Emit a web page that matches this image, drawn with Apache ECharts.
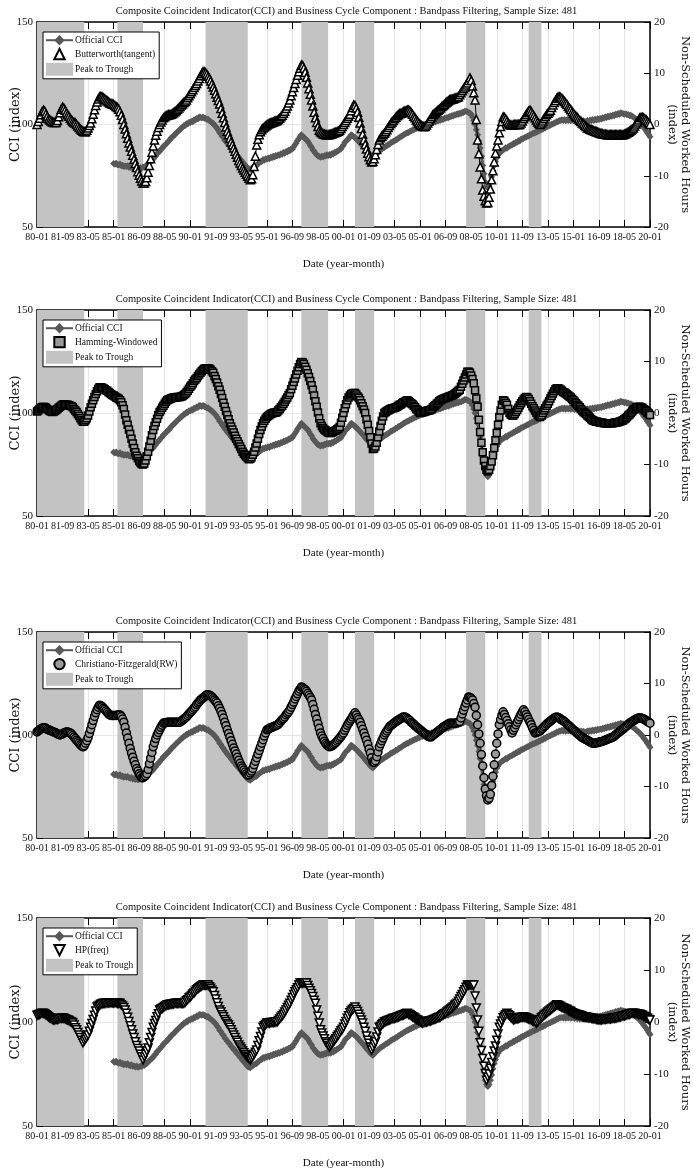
<!DOCTYPE html>
<html>
<head>
<meta charset="utf-8">
<script src="https://cdn.jsdelivr.net/npm/echarts@6/dist/echarts.min.js"></script>
<style>html,body{margin:0;padding:0;background:#fff;}#chart{width:693px;height:1169px;}</style>
</head>
<body>
<div id="chart"></div>
<script>
// ---------- DATA ----------
const titleText = 'Composite Coincident Indicator(CCI) and Business Cycle Component : Bandpass Filtering, Sample Size: 481';
const startYear = 1980, nMonths = 481;
const months = [];
for (let i = 0; i < nMonths; i++) {
  const y = startYear + Math.floor(i / 12), m = i % 12 + 1;
  months.push(String(y % 100).padStart(2, '0') + '-' + String(m).padStart(2, '0'));
}
// Peak-to-trough shaded periods
const peakTrough = [['80-01','83-02'],['85-04','86-12'],['91-01','93-10'],['97-04','99-01'],['00-10','02-01'],['08-01','09-04'],['12-02','12-12']];

// Official CCI (left axis, index), starts 85-01
const cciStart = '85-01';
const cci = [
81.0,80.6,81.1,80.4,80.2,80.7,79.9,80.1,79.5,79.8,
79.5,79.9,79.2,79.0,79.4,78.7,78.9,78.4,78.8,78.3,
78.5,78.9,78.6,79.3,79.1,79.8,80.0,80.9,81.3,82.2,
82.5,83.0,84.1,84.6,85.8,86.2,87.0,87.9,88.3,89.4,
89.8,90.6,91.0,92.0,92.4,93.5,93.8,94.6,95.0,95.9,
96.3,97.1,97.5,98.3,98.6,99.4,99.5,100.4,100.3,101.1,
101.0,101.6,101.4,102.3,102.2,102.9,102.7,103.6,103.5,103.2,
103.6,103.1,103.0,102.4,102.6,101.8,101.5,100.8,100.5,99.6,
99.0,98.1,97.2,96.0,95.4,94.2,93.6,92.3,91.7,90.8,
90.0,89.4,88.3,87.9,86.8,86.4,85.2,84.8,84.0,83.1,
82.6,81.5,81.0,80.1,79.5,78.6,78.3,78.0,78.7,79.0,
79.6,79.8,80.0,80.9,81.2,81.8,82.0,82.9,82.6,83.3,
83.0,83.6,83.3,84.0,83.8,84.5,84.2,84.9,84.6,85.3,
85.0,85.7,85.5,86.3,86.0,86.8,86.6,87.4,87.2,88.1,
88.0,89.2,90.1,91.0,92.2,93.0,94.1,95.0,94.2,93.8,
93.0,92.5,92.0,90.9,89.8,88.9,87.6,86.9,86.0,85.3,
84.6,84.4,84.0,84.5,84.1,84.8,84.6,85.3,84.9,85.4,
85.0,85.8,85.6,86.4,86.3,87.0,87.2,87.8,88.0,89.1,
90.0,91.2,91.9,92.6,93.0,94.2,95.0,94.6,94.0,93.6,
93.0,92.4,91.6,91.0,90.2,89.6,89.0,88.0,87.3,86.5,
85.9,85.0,84.5,84.0,84.7,85.3,85.9,86.6,87.0,87.7,
88.0,88.5,88.8,89.4,89.6,90.2,90.4,91.1,91.3,91.8,
92.0,92.6,92.7,93.4,93.6,94.1,94.4,95.0,95.2,95.7,
96.0,96.1,96.7,96.8,97.3,97.4,97.9,98.0,98.6,98.6,
99.0,99.4,99.3,99.9,99.8,100.4,100.2,100.8,100.6,101.1,
101.0,101.4,101.2,101.8,101.7,102.2,102.1,102.6,102.5,103.1,
103.0,103.4,103.3,103.9,103.8,104.4,104.2,104.8,104.6,105.2,
105.0,105.5,105.4,106.0,105.9,106.5,106.5,106.2,105.9,105.6,
105.0,103.6,102.0,100.0,97.5,95.0,92.0,88.5,84.5,80.0,
76.0,72.0,70.0,69.0,70.0,72.0,74.5,77.5,80.0,82.0,
83.8,85.0,86.0,86.6,87.2,87.6,88.0,88.6,88.4,89.2,
89.5,89.8,90.0,90.7,90.6,91.4,91.4,92.1,92.0,92.8,
93.0,93.2,93.6,93.9,94.3,94.4,95.0,95.1,95.6,95.7,
96.0,96.4,96.5,97.1,97.1,97.7,97.7,98.4,98.3,99.0,
99.0,99.5,99.6,100.1,100.3,100.7,100.8,101.4,101.5,102.0,
102.0,102.3,101.9,102.4,101.8,102.3,101.9,102.4,101.8,102.3,
102.0,101.7,102.1,101.6,102.0,101.5,101.9,101.4,101.8,101.3,
101.5,101.9,101.6,102.2,101.8,102.4,102.0,102.6,102.2,102.8,
102.5,102.9,102.7,103.3,103.0,103.6,103.4,104.0,103.7,104.3,
104.0,104.6,104.3,105.0,104.7,105.4,105.0,105.7,105.5,105.3,
105.0,105.2,104.7,104.9,104.3,104.5,104.0,103.6,103.2,102.6,
102.0,101.6,101.0,100.3,99.5,98.6,97.8,97.0,96.0,95.0,
94.0];

// Butterworth(tangent) cycle (right axis)
const butterworth = [
0.0,0.6,1.2,1.9,2.5,2.8,2.6,2.1,1.6,1.1,
0.9,0.7,0.5,0.4,0.4,0.4,0.8,1.5,2.3,3.0,
3.4,3.2,2.8,2.3,1.9,1.6,1.2,0.9,0.6,0.4,
0.3,0.0,-0.3,-0.6,-0.9,-1.1,-1.3,-1.4,-1.4,-1.1,
-0.7,-0.2,0.3,1.1,2.0,2.9,3.7,4.4,5.0,5.4,
5.5,5.4,5.2,5.0,4.8,4.6,4.4,4.2,4.1,4.0,
3.9,3.7,3.5,3.3,3.0,2.5,1.8,1.0,0.0,-0.9,
-1.8,-2.7,-3.6,-4.4,-5.2,-6.0,-6.8,-7.6,-8.4,-9.2,
-9.9,-10.5,-11.0,-11.4,-11.4,-11.1,-10.4,-9.3,-8.0,-6.7,
-5.4,-4.2,-3.0,-2.1,-1.3,-0.6,0.0,0.5,0.9,1.3,
1.5,1.7,1.8,1.9,1.9,2.0,2.1,2.3,2.5,2.7,
3.0,3.2,3.5,3.8,4.0,4.3,4.5,4.8,5.2,5.6,
6.0,6.4,6.8,7.2,7.6,8.0,8.5,9.0,9.5,9.9,
10.3,10.3,10.1,9.8,9.4,9.0,8.5,7.9,7.3,6.7,
6.0,5.3,4.7,4.0,3.1,2.2,1.3,0.4,-0.5,-1.3,
-2.0,-2.7,-3.4,-4.0,-4.6,-5.2,-5.8,-6.4,-7.0,-7.5,
-8.0,-8.5,-8.9,-9.3,-9.7,-10.1,-10.5,-10.8,-10.6,-9.8,
-8.2,-6.2,-4.0,-2.9,-2.0,-1.4,-1.0,-0.7,-0.5,-0.3,
-0.1,0.1,0.2,0.3,0.4,0.5,0.6,0.7,0.8,1.0,
1.2,1.5,1.8,2.2,2.6,3.1,3.6,4.2,4.8,5.6,
6.4,7.2,8.0,8.8,9.6,10.3,11.0,11.6,11.5,11.0,
10.2,9.2,8.1,7.0,5.9,4.8,3.6,2.4,1.3,0.4,
-0.4,-1.1,-1.4,-1.6,-1.8,-1.9,-2.0,-2.0,-2.0,-2.0,
-1.9,-1.8,-1.7,-1.6,-1.5,-1.4,-1.3,-1.1,-0.8,-0.4,
0.0,0.4,0.8,1.2,1.6,2.0,2.7,3.3,3.8,3.7,
3.2,2.4,1.4,0.3,-0.8,-1.9,-3.0,-3.9,-4.8,-5.6,
-6.3,-6.9,-7.3,-7.2,-6.7,-5.9,-4.9,-3.9,-3.0,-2.6,
-2.3,-2.0,-1.7,-1.4,-1.0,-0.6,-0.2,0.2,0.5,0.8,
1.1,1.4,1.7,1.9,2.1,2.2,2.3,2.5,2.6,2.7,
2.8,2.8,2.6,2.3,2.0,1.6,1.3,0.9,0.6,0.3,
0.0,-0.2,-0.4,-0.4,-0.4,-0.1,0.3,0.7,1.1,1.5,
1.9,2.1,2.3,2.5,2.8,3.0,3.2,3.5,3.7,3.9,
4.2,4.4,4.6,4.8,4.9,5.0,5.0,5.1,5.2,5.3,
5.4,5.8,6.2,6.6,7.0,7.3,7.7,8.1,8.6,9.1,
8.6,7.5,6.2,4.8,1.0,-3.0,-5.7,-8.3,-10.6,-12.8,
-14.0,-14.9,-15.3,-15.2,-14.2,-12.6,-10.8,-9.0,-7.3,-5.6,
-4.2,-3.0,-1.6,-0.4,0.6,1.5,1.4,1.1,0.7,0.3,
0.0,-0.1,-0.1,-0.1,0.0,0.0,0.0,0.0,0.0,0.3,
0.7,1.1,1.5,1.9,2.3,2.6,2.8,2.5,2.1,1.7,
1.3,0.9,0.5,0.2,0.0,0.3,0.7,1.1,1.5,1.9,
2.2,2.5,2.8,3.3,3.8,4.3,4.7,5.1,5.4,5.4,
5.3,5.1,4.8,4.5,4.2,3.9,3.5,3.2,2.9,2.5,
2.2,1.9,1.6,1.4,1.1,0.8,0.6,0.3,0.1,-0.2,
-0.4,-0.7,-0.8,-0.9,-1.0,-1.1,-1.2,-1.3,-1.4,-1.5,
-1.6,-1.7,-1.8,-1.8,-1.9,-1.9,-2.0,-2.0,-2.0,-2.0,
-2.0,-2.0,-2.0,-2.0,-2.0,-2.0,-2.0,-2.0,-2.0,-2.0,
-1.9,-1.8,-1.6,-1.5,-1.3,-1.1,-0.9,-0.7,-0.3,0.1,
0.5,0.9,1.3,1.4,1.4,1.3,1.1,0.9,0.6,0.3,
0.0];

// Hamming-Windowed cycle (right axis)
const hamming = [
0.3,0.5,0.8,1.0,1.1,1.2,1.1,1.0,0.8,0.6,
0.4,0.3,0.2,0.3,0.4,0.6,0.8,1.0,1.2,1.4,
1.6,1.7,1.7,1.6,1.6,1.5,1.4,1.3,1.1,0.8,
0.5,0.2,-0.2,-0.6,-1.0,-1.4,-1.7,-1.7,-1.4,-1.0,
-0.5,0.3,1.1,1.8,2.5,3.1,3.7,4.2,4.7,5.0,
5.0,4.9,4.8,4.6,4.4,4.3,4.1,3.9,3.7,3.5,
3.4,3.2,3.0,2.9,2.7,2.5,2.1,1.5,0.8,-0.3,
-1.4,-2.3,-3.2,-4.1,-5.0,-5.9,-6.8,-7.6,-8.3,-8.8,
-9.3,-9.6,-9.9,-10.0,-9.8,-9.2,-8.4,-7.5,-6.5,-5.4,
-4.3,-3.3,-2.5,-1.8,-1.1,-0.4,0.2,0.6,1.0,1.4,
1.8,2.2,2.5,2.6,2.7,2.8,2.9,3.0,3.0,3.0,
3.1,3.1,3.1,3.2,3.3,3.5,3.7,4.0,4.3,4.7,
5.1,5.4,5.8,6.2,6.5,6.8,7.2,7.5,7.8,8.1,
8.4,8.6,8.7,8.7,8.7,8.6,8.4,8.1,7.8,7.2,
6.6,5.9,5.2,4.5,3.7,2.9,2.0,1.2,0.4,-0.4,
-1.2,-2.0,-2.6,-3.2,-3.8,-4.4,-5.0,-5.5,-6.0,-6.5,
-7.0,-7.5,-7.9,-8.2,-8.5,-8.8,-9.0,-8.9,-8.6,-8.1,
-7.5,-6.7,-5.9,-5.0,-4.1,-3.3,-2.6,-2.0,-1.5,-1.1,
-0.8,-0.6,-0.4,-0.2,-0.1,0.0,0.1,0.1,0.2,0.5,
0.8,1.1,1.4,1.8,2.2,2.6,3.0,3.5,3.9,4.6,
5.3,6.0,6.7,7.5,8.2,8.9,9.5,9.9,9.8,9.5,
9.0,8.4,7.7,7.0,6.2,5.4,4.5,3.4,2.3,1.2,
0.1,-1.0,-2.0,-2.5,-2.9,-3.2,-3.4,-3.6,-3.8,-3.9,
-3.9,-3.8,-3.7,-3.5,-3.4,-3.2,-3.0,-2.7,-1.9,-0.9,
0.0,0.9,1.7,2.5,3.0,3.4,3.7,3.8,3.9,3.9,
3.6,3.2,2.9,2.5,1.9,1.3,0.7,0.0,-1.2,-2.3,
-3.5,-4.7,-5.9,-7.0,-6.9,-6.5,-5.8,-4.7,-3.6,-2.5,
-1.5,-0.7,0.0,0.2,0.4,0.5,0.7,0.8,0.9,0.9,
1.0,1.1,1.2,1.4,1.6,1.7,1.9,2.1,2.2,2.4,
2.5,2.3,2.1,1.9,1.7,1.4,1.1,0.8,0.6,0.3,
0.0,0.1,0.2,0.2,0.3,0.4,0.5,0.5,0.6,0.8,
1.1,1.3,1.5,1.8,2.0,2.3,2.5,2.6,2.7,2.8,
2.9,3.0,3.1,3.2,3.3,3.4,3.5,3.7,3.9,4.1,
4.3,4.5,5.1,5.7,6.3,6.9,7.5,8.0,8.0,7.8,
7.3,6.6,5.8,4.4,2.8,1.2,-1.3,-3.7,-5.8,-7.6,
-9.2,-10.3,-11.0,-11.3,-11.0,-10.3,-9.4,-8.2,-6.8,-5.3,
-3.9,-2.3,-0.8,0.5,1.6,2.5,2.4,2.0,1.6,0.8,
0.0,-0.3,-0.5,-0.5,-0.2,0.2,0.6,1.0,1.5,1.9,
2.3,2.6,2.9,3.1,3.0,2.7,2.3,1.8,1.3,0.9,
0.5,0.1,-0.3,-0.6,-0.8,-0.5,0.0,0.5,0.9,1.4,
1.8,2.3,2.8,3.3,3.8,4.2,4.6,4.8,4.8,4.7,
4.5,4.3,4.1,4.0,3.8,3.6,3.4,3.2,3.0,2.7,
2.5,2.2,1.9,1.6,1.4,1.1,0.8,0.5,0.2,0.0,
-0.2,-0.5,-0.7,-0.9,-1.2,-1.4,-1.5,-1.6,-1.7,-1.7,
-1.8,-1.8,-1.9,-1.9,-2.0,-2.0,-2.0,-2.0,-2.0,-2.0,
-2.0,-2.0,-1.9,-1.9,-1.8,-1.8,-1.7,-1.6,-1.5,-1.4,
-1.2,-1.0,-0.8,-0.5,-0.3,0.0,0.3,0.6,0.8,1.0,
1.1,1.2,1.2,1.1,1.0,0.8,0.6,0.4,0.1,-0.1,
-0.4];

// Christiano-Fitzgerald(RW) cycle (right axis)
const christianoFitzgerald = [
0.6,0.8,1.0,1.2,1.3,1.4,1.4,1.3,1.1,1.0,
0.9,0.8,0.7,0.6,0.5,0.4,0.2,0.1,0.0,0.1,
0.2,0.4,0.5,0.6,0.6,0.5,0.4,0.2,-0.1,-0.4,
-0.7,-1.0,-1.3,-1.6,-1.9,-2.1,-2.3,-2.1,-1.6,-1.1,
-0.5,0.3,1.1,2.0,2.8,3.6,4.3,4.9,5.4,5.8,
5.7,5.5,5.2,5.0,4.7,4.4,4.1,3.9,3.8,3.8,
3.8,3.8,3.8,3.9,3.9,3.9,3.6,3.1,2.5,1.5,
0.4,-0.6,-1.6,-2.6,-3.5,-4.3,-5.1,-5.8,-6.5,-7.0,
-7.5,-7.9,-8.3,-8.3,-8.1,-7.9,-7.5,-6.7,-5.6,-4.5,
-3.4,-2.3,-1.5,-0.7,0.0,0.5,1.0,1.5,1.9,2.3,
2.4,2.4,2.5,2.5,2.5,2.5,2.5,2.5,2.5,2.5,
2.5,2.5,2.5,2.7,2.9,3.1,3.3,3.5,3.8,4.1,
4.4,4.6,4.9,5.2,5.5,5.9,6.2,6.5,6.8,7.0,
7.2,7.4,7.6,7.8,7.8,7.7,7.6,7.4,7.1,6.8,
6.5,6.2,5.7,5.2,4.6,4.0,3.3,2.5,1.8,1.0,
0.3,-0.4,-1.1,-1.8,-2.5,-3.1,-3.7,-4.3,-4.9,-5.5,
-6.0,-6.4,-6.8,-7.2,-7.5,-7.8,-7.7,-7.4,-7.0,-6.5,
-5.8,-5.1,-4.4,-3.7,-3.0,-2.3,-1.6,-0.9,-0.2,0.4,
1.0,1.1,1.3,1.4,1.5,1.6,1.7,1.8,1.9,2.1,
2.4,2.7,3.0,3.2,3.5,3.9,4.2,4.5,4.9,5.4,
5.9,6.4,7.0,7.5,8.0,8.5,8.9,9.3,9.2,9.0,
8.8,8.5,8.1,7.7,7.3,6.8,5.9,5.0,4.0,3.1,
2.2,1.3,0.4,-0.2,-0.7,-1.2,-1.6,-1.9,-2.1,-2.3,
-2.2,-2.1,-1.9,-1.7,-1.5,-1.2,-0.9,-0.6,-0.3,0.1,
0.4,0.9,1.4,1.9,2.3,2.7,3.1,3.5,3.9,4.3,
3.9,3.4,3.0,2.5,1.8,1.1,0.4,-0.3,-1.0,-1.8,
-2.7,-3.5,-4.4,-5.2,-5.3,-5.0,-4.2,-3.3,-2.3,-1.7,
-1.1,-0.6,0.0,0.4,0.8,1.2,1.6,1.8,2.0,2.2,
2.4,2.6,2.8,2.9,3.1,3.2,3.4,3.5,3.5,3.4,
3.2,3.0,2.8,2.5,2.3,2.1,1.8,1.6,1.4,1.2,
1.0,0.8,0.6,0.4,0.2,0.0,-0.2,-0.3,-0.4,-0.3,
-0.1,0.1,0.3,0.5,0.7,0.9,1.1,1.3,1.5,1.7,
1.8,2.0,2.1,2.3,2.3,2.3,2.3,2.3,2.3,2.4,
2.5,2.6,3.3,4.1,4.8,5.5,6.2,6.8,7.4,7.3,
7.1,6.8,6.1,5.4,3.8,2.0,0.2,-1.6,-3.8,-6.0,
-8.3,-10.5,-11.8,-12.6,-12.3,-11.5,-9.8,-8.0,-5.8,-3.7,
-1.6,0.2,2.0,3.0,3.8,4.5,4.0,3.4,2.8,2.2,
1.6,1.0,0.4,0.9,1.4,2.0,2.5,3.0,3.5,4.0,
4.5,4.9,4.5,4.0,3.5,3.0,2.5,2.0,1.4,0.9,
0.4,0.5,0.6,0.7,0.8,1.1,1.3,1.6,1.8,2.1,
2.3,2.5,2.7,2.9,3.1,3.3,3.4,3.5,3.4,3.3,
3.1,2.9,2.8,2.6,2.4,2.1,1.9,1.7,1.5,1.2,
1.0,0.8,0.6,0.3,0.1,-0.1,-0.3,-0.5,-0.6,-0.8,
-0.9,-1.0,-1.2,-1.3,-1.5,-1.6,-1.6,-1.6,-1.5,-1.5,
-1.4,-1.3,-1.3,-1.2,-1.1,-1.0,-0.9,-0.8,-0.7,-0.6,
-0.5,-0.4,-0.2,0.0,0.2,0.4,0.6,0.8,1.0,1.2,
1.4,1.6,1.8,2.1,2.3,2.5,2.6,2.8,2.9,3.1,
3.2,3.3,3.3,3.3,3.2,3.1,3.0,2.8,2.6,2.5,
2.3];

// HP(freq) cycle (right axis)
const hpFreq = [
1.3,1.4,1.5,1.6,1.7,1.7,1.6,1.4,1.2,1.0,
0.8,0.7,0.5,0.4,0.4,0.5,0.5,0.6,0.7,0.7,
0.8,0.7,0.6,0.5,0.4,0.3,0.1,0.0,-0.2,-0.6,
-1.1,-1.5,-2.0,-2.5,-3.0,-3.5,-4.0,-3.6,-3.3,-2.9,
-2.5,-1.8,-1.0,-0.3,0.5,1.3,2.1,2.9,3.1,3.2,
3.4,3.5,3.6,3.6,3.6,3.7,3.7,3.7,3.7,3.7,
3.7,3.7,3.7,3.6,3.6,3.6,3.3,3.1,2.8,2.3,
1.7,0.9,0.1,-0.7,-1.5,-2.3,-3.0,-3.8,-4.5,-5.1,
-5.6,-6.2,-6.7,-7.3,-6.7,-6.2,-5.6,-5.0,-4.0,-3.0,
-2.0,-1.0,-0.3,0.3,1.0,1.6,2.3,2.5,2.6,2.8,
3.0,3.1,3.3,3.3,3.4,3.4,3.5,3.5,3.6,3.6,
3.6,3.6,3.6,3.6,3.6,3.6,3.8,4.1,4.3,4.6,
4.8,5.1,5.4,5.6,5.9,6.2,6.4,6.6,6.8,6.9,
7.1,7.1,7.1,7.1,7.1,6.8,6.5,6.1,5.8,5.1,
4.4,3.7,3.0,2.3,1.9,1.4,1.0,0.5,0.1,-0.3,
-0.6,-1.0,-1.5,-2.0,-2.5,-3.0,-3.5,-3.9,-4.4,-4.8,
-5.2,-5.6,-5.9,-6.3,-6.6,-6.8,-7.1,-7.3,-7.0,-6.6,
-6.2,-5.8,-5.4,-4.5,-3.6,-2.8,-1.9,-1.0,-0.7,-0.5,
-0.2,-0.2,-0.2,-0.1,-0.1,-0.1,0.0,0.0,0.0,0.3,
0.6,0.9,1.2,1.5,1.9,2.3,2.8,3.2,3.6,4.2,
4.7,5.3,5.8,6.2,6.6,7.1,7.5,7.5,7.5,7.5,
7.5,7.5,7.0,6.5,6.0,5.5,4.9,4.2,3.6,2.3,
1.1,-0.2,-1.5,-2.1,-2.7,-3.2,-3.8,-4.1,-4.5,-4.8,
-4.5,-4.2,-3.8,-3.5,-3.2,-2.8,-2.5,-2.1,-1.7,-1.4,
-1.0,-0.4,0.1,0.7,1.2,1.8,2.1,2.4,2.6,2.9,
2.4,2.0,1.5,0.9,0.4,-0.2,-1.0,-1.8,-2.7,-3.5,
-4.1,-4.8,-5.4,-4.9,-4.3,-3.8,-2.9,-1.9,-1.0,-0.8,
-0.5,-0.3,0.0,0.1,0.2,0.3,0.4,0.5,0.6,0.7,
0.7,0.8,0.9,1.0,1.1,1.2,1.3,1.4,1.5,1.6,
1.7,1.5,1.4,1.2,1.0,0.9,0.7,0.5,0.4,0.2,
0.1,-0.1,-0.2,-0.1,0.0,0.0,0.1,0.2,0.2,0.3,
0.4,0.5,0.6,0.7,0.8,0.9,1.0,1.2,1.4,1.6,
1.7,1.9,2.1,2.3,2.5,2.7,2.9,3.2,3.4,3.6,
4.0,4.4,4.9,5.3,5.8,6.2,6.7,7.1,7.1,7.1,
7.1,7.1,7.1,5.0,2.7,0.4,-1.8,-4.0,-5.5,-7.0,
-8.5,-9.9,-11.2,-10.6,-10.0,-8.9,-7.8,-6.7,-5.6,-4.6,
-3.5,-2.3,-1.0,-0.4,0.2,0.8,1.1,1.4,1.7,1.4,
1.2,0.9,0.7,0.4,0.5,0.6,0.6,0.7,0.8,0.9,
0.9,1.0,0.9,0.8,0.7,0.6,0.5,0.4,0.2,0.1,
0.0,-0.2,0.0,0.3,0.5,0.8,1.0,1.3,1.5,1.7,
1.9,2.1,2.3,2.5,2.7,2.9,3.1,3.3,3.2,3.1,
3.0,2.8,2.7,2.6,2.5,2.4,2.2,2.1,2.0,1.8,
1.7,1.6,1.5,1.4,1.4,1.3,1.2,1.1,1.0,1.0,
0.9,0.9,0.8,0.8,0.7,0.7,0.6,0.6,0.5,0.5,
0.4,0.4,0.4,0.5,0.5,0.5,0.6,0.6,0.6,0.6,
0.7,0.7,0.7,0.8,0.8,0.9,1.0,1.0,1.1,1.2,
1.2,1.3,1.4,1.5,1.5,1.6,1.7,1.7,1.7,1.6,
1.6,1.5,1.5,1.4,1.3,1.1,1.0,0.8,0.7,0.5,
0.4];

const leftTicks = {min: 50, max: 150, interval: 50};
const rightTicks = {min: -20, max: 20, interval: 10};

// ---------- PANELS ----------
const filters = [
  {name: 'Butterworth(tangent)', data: butterworth, symbol: 'triangle', rotate: 0, fill: '#ffffff', size: 8},
  {name: 'Hamming-Windowed', data: hamming, symbol: 'rect', rotate: 0, fill: '#9a9a9a', size: 7},
  {name: 'Christiano-Fitzgerald(RW)', data: christianoFitzgerald, symbol: 'circle', rotate: 0, fill: '#9a9a9a', size: 8},
  {name: 'HP(freq)', data: hpFreq, symbol: 'triangle', rotate: 180, fill: '#ffffff', size: 8}
];
const layout = [{top: 22, height: 205}, {top: 310, height: 206}, {top: 632, height: 206}, {top: 918, height: 208}];

const cciIdx = months.indexOf(cciStart);
const cciData = months.map((_, i) => (i < cciIdx ? null : cci[i - cciIdx]));

const serif = "'Liberation Serif','Times New Roman',serif";
const serif2 = "'DejaVu Serif',serif";

const option = {animation: false, backgroundColor: '#fff', title: [], grid: [], xAxis: [], yAxis: [], legend: [], series: [], graphic: []};

layout.forEach((L, i) => {
  const f = filters[i];
  option.title.push({text: titleText, left: 'center', top: L.top - 16, padding: 0,
    textStyle: {fontFamily: serif, fontSize: 10.5, fontWeight: 'normal', color: '#111'}});
  option.grid.push({left: 37, right: 43, top: L.top, height: L.height, containLabel: false, outerBoundsMode: 'none'});
  option.xAxis.push({type: 'category', gridIndex: i, data: months, boundaryGap: false, position: 'bottom',
    name: 'Date (year-month)', nameLocation: 'middle', nameGap: 32, nameMoveOverlap: false,
    nameTextStyle: {fontFamily: serif, fontSize: 11, color: '#111'},
    axisLine: {show: true, onZero: false, lineStyle: {color: '#000', width: 1.5}},
    axisTick: {show: true, inside: true, interval: 19, length: 7, lineStyle: {color: '#000', width: 1}},
    axisLabel: {interval: 19, fontFamily: serif, fontSize: 10, color: '#111', margin: 5},
    splitLine: {show: true, interval: 19, lineStyle: {color: '#e6e6e6', width: 1}}});
  option.xAxis.push({type: 'category', gridIndex: i, data: months, boundaryGap: false, position: 'top',
    axisLine: {show: true, onZero: false, lineStyle: {color: '#000', width: 1.5}},
    axisTick: {show: true, inside: true, interval: 19, length: 7, lineStyle: {color: '#000', width: 1}},
    axisLabel: {show: false}, splitLine: {show: false}});
  option.yAxis.push({type: 'value', gridIndex: i, position: 'left', min: leftTicks.min, max: leftTicks.max, interval: leftTicks.interval,
    name: 'CCI (index)', nameLocation: 'middle', nameGap: 15, nameRotate: 90, nameMoveOverlap: false,
    nameTextStyle: {fontFamily: serif2, fontSize: 13, color: '#111'},
    axisLine: {show: true, onZero: false, lineStyle: {color: '#000', width: 1.5}},
    axisTick: {show: true, inside: true, length: 6, lineStyle: {color: '#000'}},
    axisLabel: {fontFamily: serif, fontSize: 11, color: '#111', margin: 4},
    splitLine: {show: true, lineStyle: {color: '#e6e6e6', width: 1}}});
  option.yAxis.push({type: 'value', gridIndex: i, position: 'right', min: rightTicks.min, max: rightTicks.max, interval: rightTicks.interval,
    name: 'Non-Scheduled Worked Hours\n(index)', nameLocation: 'middle', nameGap: 15, nameRotate: -90, nameMoveOverlap: false,
    nameTextStyle: {fontFamily: serif2, fontSize: 11.5, color: '#111', lineHeight: 13, align: 'center'},
    axisLine: {show: true, onZero: false, lineStyle: {color: '#000', width: 1.5}},
    axisTick: {show: true, inside: true, length: 6, lineStyle: {color: '#000'}},
    axisLabel: {fontFamily: serif, fontSize: 11, color: '#111', margin: 4},
    splitLine: {show: false}});
  option.legend.push({left: 43, top: L.top + 10, orient: 'vertical', selectedMode: false,
    backgroundColor: '#fff', borderColor: '#000', borderWidth: 1, borderRadius: 0,
    padding: [3, 4, 3, 2], itemWidth: 27, itemHeight: 13, itemGap: 2.5,
    textStyle: {fontFamily: serif, fontSize: 9.5, color: '#111', padding: [0, 0, 0, -3]},
    data: [
      {name: 'Official CCI'},
      {name: f.name, lineStyle: {opacity: 0}},
      {name: 'Peak to Trough', icon: 'rect'}
    ]});
  option.series.push({name: 'Peak to Trough', type: 'line', xAxisIndex: 2 * i, yAxisIndex: 2 * i, data: [], z: 1,
    itemStyle: {color: '#c3c3c3'}, lineStyle: {color: '#c3c3c3'},
    markArea: {silent: true, itemStyle: {color: '#c3c3c3', opacity: 1},
      data: peakTrough.map(p => [{xAxis: p[0]}, {xAxis: p[1]}])}});
  option.series.push({name: 'Official CCI', type: 'line', xAxisIndex: 2 * i, yAxisIndex: 2 * i, data: cciData, z: 2,
    symbol: 'diamond', symbolSize: 7, showAllSymbol: true, connectNulls: false,
    lineStyle: {color: '#585858', width: 3}, itemStyle: {color: '#585858'}});
  option.series.push({name: f.name, type: 'line', xAxisIndex: 2 * i, yAxisIndex: 2 * i + 1, data: f.data, z: 3,
    symbol: f.symbol, symbolRotate: f.rotate, symbolSize: f.size, showAllSymbol: true,
    lineStyle: {color: '#000', width: 1}, itemStyle: {color: f.fill, borderColor: '#000', borderWidth: 1.5}});
});

// sanity check on array lengths
const bad = [['cci', cci.length, nMonths - cciIdx], ['bw', butterworth.length, nMonths], ['hw', hamming.length, nMonths], ['cf', christianoFitzgerald.length, nMonths], ['hp', hpFreq.length, nMonths]]
  .filter(b => b[1] !== b[2]);
if (bad.length) option.graphic.push({type: 'text', left: 200, top: 600, z: 100, style: {text: 'LEN ' + bad.map(b => b.join(':')).join(' '), fill: 'red', fontSize: 20}});

const chart = echarts.init(document.getElementById('chart'), null, {renderer: 'canvas'});
chart.setOption(option);
</script>
</body>
</html>
